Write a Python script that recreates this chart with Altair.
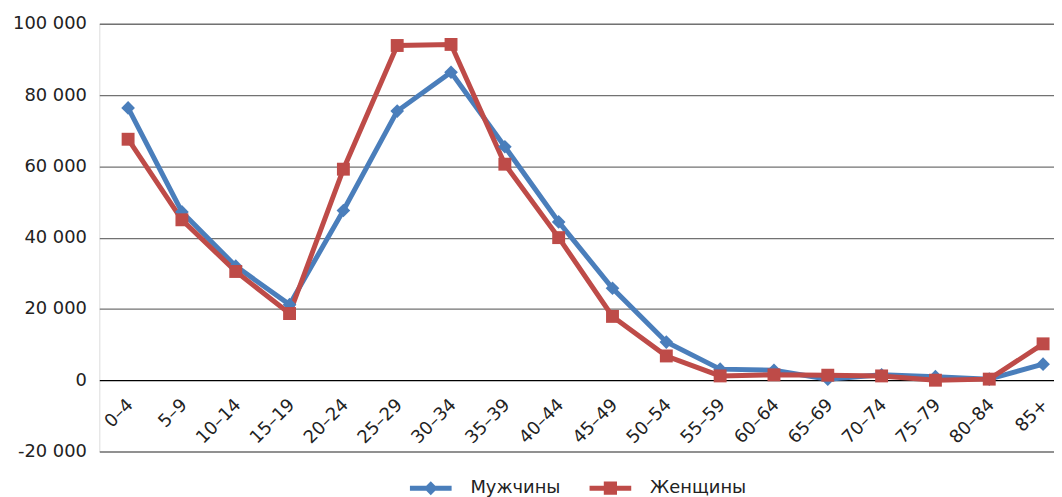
import altair as alt
import pandas as pd

categories = ["0–4", "5–9", "10–14", "15–19", "20–24", "25–29", "30–34", "35–39", "40–44",
              "45–49", "50–54", "55–59", "60–64", "65–69", "70–74", "75–79", "80–84", "85+"]
men = [76400, 47200, 32000, 21200, 47600, 75500, 86400, 65500, 44400,
       25800, 10700, 3100, 2800, 300, 1500, 1000, 300, 4500]
women = [67600, 45000, 30500, 18700, 59200, 93900, 94200, 60600, 40000,
         17900, 6800, 1200, 1500, 1400, 1200, 0, 300, 10200]
series_names = ["Мужчины", "Женщины"]
y_ticks = [-20000, 0, 20000, 40000, 60000, 80000, 100000]

rows = []
for s, vals in zip(series_names, [men, women]):
    for c, v in zip(categories, vals):
        rows.append({"age": c, "value": v, "series": s})
df = pd.DataFrame(rows)

W, H = 962, 431
FONT = "DejaVu Sans"
colors = ["#4A7EBB", "#BE4B48"]

color_scale = alt.Scale(domain=series_names, range=colors)
x_enc = alt.X("age:N", sort=categories,
              scale=alt.Scale(type="point", padding=0.369, align=0.725),
              axis=alt.Axis(title=None, ticks=False, domain=False, grid=False,
                            labelAngle=-45, labelFontSize=18, labelFont=FONT,
                            labelColor="#222222", labelPadding=22,
                            labelAlign="right", labelBaseline="middle", labelOffset=2,
                            offset=-H * 20000 / 120000))
y_enc = alt.Y("value:Q",
              scale=alt.Scale(domain=[-20000, 100000], nice=False, zero=False),
              axis=alt.Axis(title=None, values=y_ticks, ticks=False, domain=False,
                            labelFont=FONT, labelFontSize=18, labelColor="#222222",
                            labelPadding=13,
                            labelExpr="(datum.value < 0 ? '-' : '') + replace(format(abs(datum.value), ','), regexp(',', 'g'), ' ')",
                            gridColor={"condition": {"test": "datum.value === 0", "value": "#000000"},
                                       "value": "#727272"},
                            gridWidth=1.3))

base = alt.Chart(df)

lines = base.mark_line(strokeWidth=5).encode(
    x=x_enc, y=y_enc,
    color=alt.Color("series:N", scale=color_scale, legend=None),
)

points = base.mark_point(filled=True, opacity=1).encode(
    x=x_enc, y=y_enc,
    color=alt.Color("series:N", scale=color_scale, legend=None),
    shape=alt.Shape("series:N", scale=alt.Scale(domain=series_names, range=["diamond", "square"]), legend=None),
    size=alt.Size("series:N", scale=alt.Scale(domain=series_names, range=[190, 169]), legend=None),
)

legend_paths = [
    "M-3,-0.36L3,-0.36L3,0.36L-3,0.36Z M0,-1L1,0L0,1L-1,0Z",
    "M-3,-0.36L3,-0.36L3,0.36L-3,0.36Z M-0.95,-0.95L0.95,-0.95L0.95,0.95L-0.95,0.95Z",
]
leg = alt.Legend(title=None, orient="none", direction="horizontal",
                 legendX=325, legendY=459,
                 labelFont=FONT, labelFontSize=18, labelColor="#222222",
                 symbolSize=196, symbolStrokeWidth=0, symbolOpacity=1,
                 labelOffset=31, columnPadding=29)

legend_layer = base.transform_filter("false").mark_point(filled=True, size=196).encode(
    x=x_enc, y=y_enc,
    color=alt.Color("series:N", scale=color_scale, legend=leg),
    shape=alt.Shape("series:N", scale=alt.Scale(domain=series_names, range=legend_paths), legend=leg),
)

chart = alt.layer(lines, points, legend_layer).resolve_scale(
    color="independent", shape="independent"
).properties(
    width=W, height=H,
    padding={"left": 4, "top": 5, "right": 0, "bottom": 0},
).configure_view(stroke=None).configure(background="white")

chart.save("out.html", embed_options={"renderer": "svg", "actions": False})
